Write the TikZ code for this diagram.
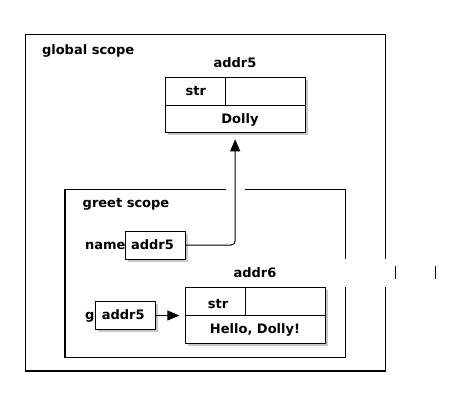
\documentclass[tikz,border=0pt]{standalone}
\usepackage{fontspec}
\setmainfont{DejaVu Sans}
\usetikzlibrary{arrows.meta,shadows,calc}
\begin{document}
\begin{tikzpicture}[x=1pt,y=-1pt,
  every node/.style={font=\bfseries\fontsize{13}{15}\selectfont, inner sep=0pt, outer sep=0pt},
  scopeline/.style={line width=1.2pt},
  objbox/.style={draw, line width=0.9pt, fill=white,
    drop shadow={shadow xshift=2.5pt, shadow yshift=-2.5pt, fill=black, opacity=0.22}},
  txt/.style={anchor=base},
  conn/.style={line width=1pt, -{Triangle[length=12pt,width=10pt]}}]
\useasboundingbox (0,0) rectangle (460,406);

% global scope frame (right edge broken by a shifted strip)
\draw[scopeline] (385.3,259.3) -- (385.3,34.7) -- (25.3,34.7) -- (25.3,371) -- (385.3,371) -- (385.3,287.3);
\draw[scopeline] (395.3,266) -- (395.3,279.3);
\draw[scopeline] (435.3,266) -- (435.3,279.3);
\node[txt, anchor=base west] (gscope) at (42,55) {global scope};

% string object addr5
\node[txt] (lab5) at (235,67.7) {addr5};
\node[objbox, minimum width=139.7pt, minimum height=55pt] (obj5) at (235.15,104.8) {};
\draw[line width=0.9pt] ($(obj5.north west)+(0,28)$) -- ($(obj5.north east)+(0,28)$);
\draw[line width=0.9pt] ($(obj5.north west)+(60,0)$) -- ($(obj5.north west)+(60,28)$);
\node[txt] (str5) at (195.8,95.3) {str};
\node[txt] (val5) at (240,123.3) {Dolly};

% greet scope frame (top edge open where the reference crosses it)
\draw[scopeline] (226,189.3) -- (65,189.3) -- (65,357.3) -- (345.3,357.3) -- (345.3,287.3);
\draw[scopeline] (345.3,259.3) -- (345.3,189.3) -- (244.7,189.3);
\node[txt, anchor=base west] (lscope) at (82.7,207.3) {greet scope};

% parameter name
\node[txt, anchor=base west] (namelab) at (85,249) {name};
\node[objbox, minimum width=60pt, minimum height=28pt] (ref1) at (155.3,245) {};
\node[txt] at (152.5,249) {addr5};

% string object addr6
\node[txt] (lab6) at (255,277.7) {addr6};
\node[objbox, minimum width=140.4pt, minimum height=55.7pt] (obj6) at (255.5,315.15) {};
\draw[line width=0.9pt] ($(obj6.north west)+(0,27.7)$) -- ($(obj6.north east)+(0,27.7)$);
\draw[line width=0.9pt] ($(obj6.north west)+(60,0)$) -- ($(obj6.north west)+(60,27.7)$);
\node[txt] (str6) at (218,308.3) {str};
\node[txt] (val6) at (255,333.3) {Hello, Dolly!};

% local variable g
\node[txt, anchor=base west] (glab) at (85,319.3) {g};
\node[objbox, minimum width=60pt, minimum height=27.6pt] (ref2) at (125.3,315.5) {};
\node[txt] at (123.2,319.3) {addr5};

% references
\coordinate (tip5) at ($(obj5.south)+(0,7)$);
\coordinate (tip6) at ($(obj6.west |- ref2.east)+(-6,0)$);
\draw[conn, rounded corners=4pt] (ref1.east) -| (tip5);
\draw[conn] (ref2.east) -- (tip6);
\end{tikzpicture}
\end{document}
